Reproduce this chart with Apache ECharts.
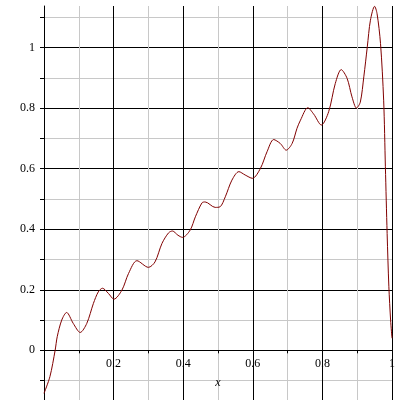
<!DOCTYPE html>
<html>
<head>
<meta charset="utf-8">
<script src="https://cdn.jsdelivr.net/npm/echarts@6/dist/echarts.min.js"></script>
<style>html,body{margin:0;padding:0;background:#fff}#c{width:400px;height:400px}</style>
</head>
<body>
<div id="c"></div>
<script>
var xValues = [0, 0.017, 0.032, 0.038, 0.051, 0.065, 0.084, 0.104, 0.123, 0.142, 0.156, 0.168, 0.185, 0.201, 0.224, 0.243, 0.267, 0.300, 0.319, 0.339, 0.358, 0.369, 0.385, 0.398, 0.420, 0.435, 0.454, 0.463, 0.492, 0.506, 0.521, 0.540, 0.560, 0.578, 0.599, 0.622, 0.641, 0.660, 0.679, 0.696, 0.713, 0.727, 0.737, 0.758, 0.775, 0.797, 0.818, 0.837, 0.854, 0.871, 0.885, 0.898, 0.909, 0.919, 0.929, 0.938, 0.950, 0.957, 0.967, 0.976, 0.981, 0.986, 0.991, 0.996, 1.0];
var yValues = [-0.142, -0.087, 0.0, 0.045, 0.100, 0.125, 0.089, 0.059, 0.089, 0.155, 0.193, 0.205, 0.188, 0.169, 0.199, 0.254, 0.296, 0.274, 0.292, 0.353, 0.388, 0.394, 0.380, 0.373, 0.397, 0.441, 0.487, 0.490, 0.472, 0.474, 0.507, 0.562, 0.590, 0.579, 0.568, 0.601, 0.656, 0.696, 0.683, 0.661, 0.683, 0.733, 0.760, 0.801, 0.780, 0.744, 0.788, 0.881, 0.927, 0.898, 0.837, 0.800, 0.820, 0.903, 1.002, 1.090, 1.136, 1.112, 1.013, 0.826, 0.606, 0.386, 0.210, 0.100, 0.040];
var yTickValues = [-0.1, 0, 0.1, 0.2, 0.3, 0.4, 0.5, 0.6, 0.7, 0.8, 0.9, 1.0, 1.1];
var yLabelValues = [0, 0.2, 0.4, 0.6, 0.8, 1];
var xLabelValues = [0.2, 0.4, 0.6, 0.8, 1];

var points = xValues.map(function (x, i) { return [x, yValues[i]]; });
var font = "'Liberation Serif', 'Times New Roman', serif";

var yMin = -0.164, yMax = 1.137;
var gridTop = 6, gridBottom = 0, H = 400;
var plotH = H - gridTop - gridBottom;
// move the x axis up to y = 0
var xAxisOffset = -((0 - yMin) / (yMax - yMin)) * plotH;

var chart = echarts.init(document.getElementById('c'), null, {renderer: 'canvas'});
chart.setOption({
  animation: false,
  backgroundColor: '#fff',
  grid: {left: 44, right: 8, top: gridTop, bottom: gridBottom, containLabel: false, outerBoundsMode: 'none'},
  xAxis: {
    type: 'value', min: 0, max: 1, interval: 0.1,
    position: 'bottom', offset: xAxisOffset,
    name: 'x', nameLocation: 'middle', nameGap: 27,
    nameTextStyle: {fontFamily: font, fontStyle: 'italic', fontSize: 12, color: '#000'},
    axisLine: {show: true, onZero: false, lineStyle: {color: '#000', width: 1}},
    axisTick: {show: true, length: 3, lineStyle: {color: '#000'}},
    axisLabel: {
      show: true, margin: 8, fontFamily: font, fontSize: 12, color: '#000',
      formatter: function (v) {
        var r = Math.round(v * 10) / 10;
        return xLabelValues.indexOf(r) >= 0 ? String(r) : '';
      }
    },
    splitLine: {show: true, lineStyle: {color: ['#000', '#c8c8c8'], width: 1}}
  },
  yAxis: {
    type: 'value', min: yMin, max: yMax,
    axisLine: {show: true, onZero: false, lineStyle: {color: '#000', width: 1}},
    axisTick: {show: true, length: 4, customValues: yTickValues, lineStyle: {color: '#000'}},
    axisLabel: {
      show: true, margin: 9, fontFamily: font, fontSize: 12, color: '#000',
      customValues: yLabelValues,
      formatter: function (v) { return String(Math.round(v * 10) / 10); }
    },
    splitLine: {show: true, lineStyle: {color: ['#c8c8c8', '#000'], width: 1}}
  },
  series: [{
    type: 'line', data: points, showSymbol: false, smooth: 0.3,
    lineStyle: {color: '#800000', width: 1}, clip: true
  }]
});
</script>
</body>
</html>
